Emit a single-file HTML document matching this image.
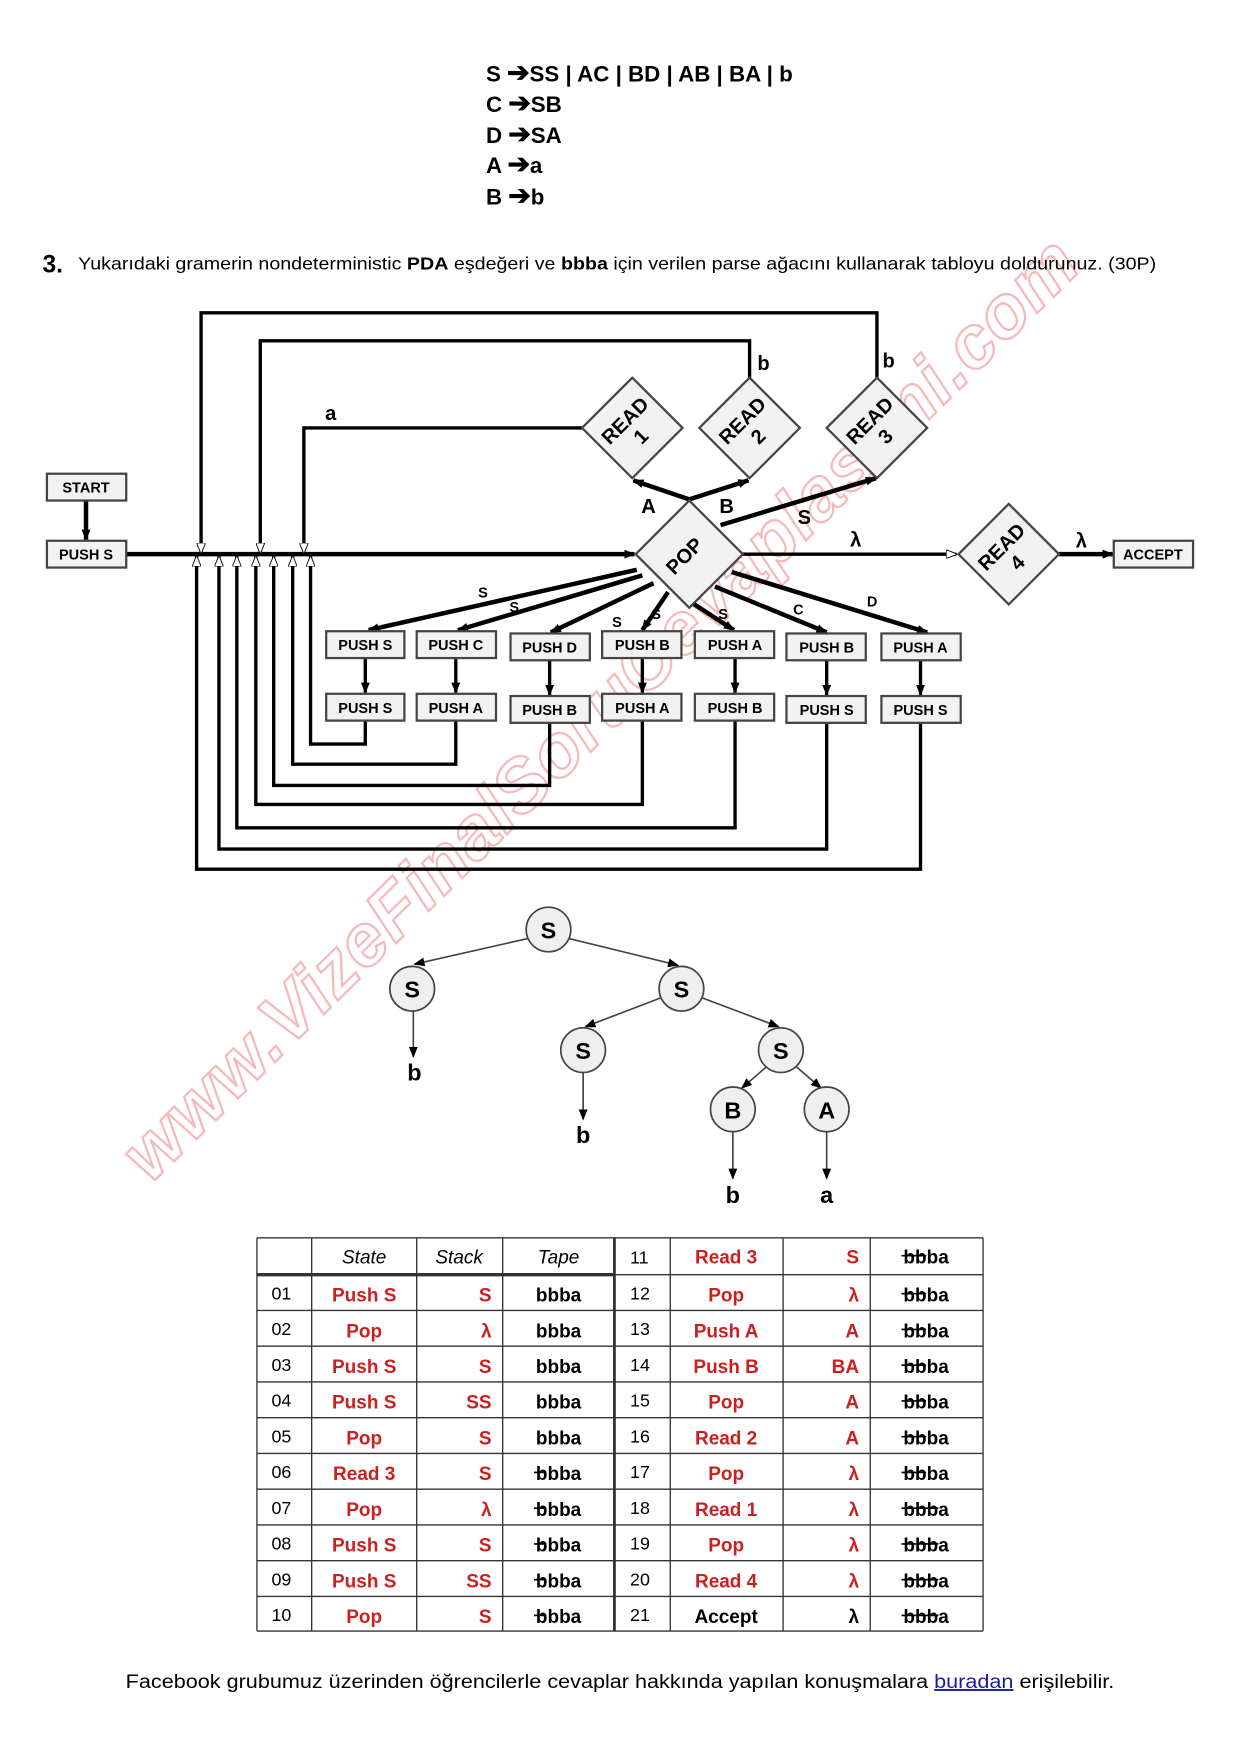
<!DOCTYPE html>
<html><head><meta charset="utf-8"><style>
html,body{margin:0;padding:0;background:#fff}
svg{display:block}
text{font-family:"Liberation Sans",sans-serif}
</style></head><body>
<svg width="1240" height="1754" viewBox="0 0 1110 1570" xmlns="http://www.w3.org/2000/svg">
<defs>
<marker id="ah" markerWidth="10" markerHeight="8" refX="9" refY="4" orient="auto" markerUnits="userSpaceOnUse"><path d="M0,0 L10,4 L0,8 Z" fill="#000"/></marker>
<marker id="ao" markerWidth="10" markerHeight="8" refX="9" refY="4" orient="auto" markerUnits="userSpaceOnUse"><path d="M0,0 L10,4 L0,8 Z" fill="#fff" stroke="#000" stroke-width="0.8"/></marker>
</defs>
<rect width="1110" height="1570" fill="#fff"/>

<!-- watermark -->
<text x="0" y="0" transform="translate(135,1060) rotate(-44.5)" font-size="66" font-weight="bold" font-style="italic" fill="none" stroke="#f4a8a8" stroke-width="2" opacity="0.8" textLength="1170">www.VizeFinalSoruCevaplasimi.com</text>

<!-- grammar -->
<g font-size="20" font-weight="bold" fill="#000">
<text x="435" y="73">S <tspan font-size="24">➔</tspan>SS | AC | BD | AB | BA | b</text>
<text x="435" y="100">C <tspan font-size="24">➔</tspan>SB</text>
<text x="435" y="128">D <tspan font-size="24">➔</tspan>SA</text>
<text x="435" y="155">A <tspan font-size="24">➔</tspan>a</text>
<text x="435" y="183">B <tspan font-size="24">➔</tspan>b</text>
</g>
<text x="38" y="244" font-size="22" font-weight="bold">3.</text>
<text x="70" y="241" font-size="15.5" textLength="965" lengthAdjust="spacingAndGlyphs">Yukarıdaki gramerin nondeterministic <tspan font-weight="bold">PDA</tspan> eşdeğeri ve <tspan font-weight="bold">bbba</tspan> için verilen parse ağacını kullanarak tabloyu doldurunuz.  (30P)</text>

<!-- diagram -->
<g stroke="#000" fill="none">
<line x1="113" y1="496" x2="568" y2="496" stroke-width="4" marker-end="url(#ah)"/>
<line x1="77" y1="448" x2="77" y2="483" stroke-width="4" marker-end="url(#ah)"/>
<line x1="665" y1="496" x2="856" y2="496" stroke-width="3" marker-end="url(#ao)"/>
<line x1="948" y1="496" x2="996" y2="496" stroke-width="4" marker-end="url(#ah)"/>
<line x1="617" y1="447" x2="567" y2="430" stroke-width="4" marker-end="url(#ah)"/>
<line x1="617" y1="447" x2="670" y2="430" stroke-width="4" marker-end="url(#ah)"/>
<line x1="645" y1="470" x2="784" y2="428" stroke-width="4" marker-end="url(#ah)"/>
<polyline points="521,383 272,383 272,495" stroke-width="3" marker-end="url(#ao)"/>
<polyline points="671,338 671,305 233,305 233,495" stroke-width="3" marker-end="url(#ao)"/>
<polyline points="785,338 785,280 180,280 180,495" stroke-width="3" marker-end="url(#ao)"/>
<line x1="570" y1="510" x2="330" y2="564" stroke-width="4" marker-end="url(#ah)"/>
<line x1="575" y1="515" x2="410" y2="564" stroke-width="4" marker-end="url(#ah)"/>
<line x1="585" y1="522" x2="493" y2="566" stroke-width="4" marker-end="url(#ah)"/>
<line x1="598" y1="530" x2="575" y2="564" stroke-width="4" marker-end="url(#ah)"/>
<line x1="620" y1="540" x2="657" y2="564" stroke-width="4" marker-end="url(#ah)"/>
<line x1="640" y1="525" x2="740" y2="566" stroke-width="4" marker-end="url(#ah)"/>
<line x1="655" y1="512" x2="830" y2="566" stroke-width="4" marker-end="url(#ah)"/>
<line x1="327" y1="589" x2="327" y2="620" stroke-width="3" marker-end="url(#ah)"/>
<line x1="408" y1="589" x2="408" y2="620" stroke-width="3" marker-end="url(#ah)"/>
<line x1="492" y1="591" x2="492" y2="622" stroke-width="3" marker-end="url(#ah)"/>
<line x1="575" y1="589" x2="575" y2="620" stroke-width="3" marker-end="url(#ah)"/>
<line x1="658" y1="589" x2="658" y2="620" stroke-width="3" marker-end="url(#ah)"/>
<line x1="740" y1="591" x2="740" y2="622" stroke-width="3" marker-end="url(#ah)"/>
<line x1="824" y1="591" x2="824" y2="622" stroke-width="3" marker-end="url(#ah)"/>
<polyline points="327,645 327,666 278,666 278,498" stroke-width="3" marker-end="url(#ao)"/>
<polyline points="408,645 408,684 262,684 262,498" stroke-width="3" marker-end="url(#ao)"/>
<polyline points="492,647 492,703 245,703 245,498" stroke-width="3" marker-end="url(#ao)"/>
<polyline points="575,645 575,720 229,720 229,498" stroke-width="3" marker-end="url(#ao)"/>
<polyline points="658,645 658,741 212,741 212,498" stroke-width="3" marker-end="url(#ao)"/>
<polyline points="740,647 740,760 196,760 196,498" stroke-width="3" marker-end="url(#ao)"/>
<polyline points="824,647 824,778 176,778 176,498" stroke-width="3" marker-end="url(#ao)"/>
</g>

<g font-size="13" font-weight="bold" text-anchor="middle">
<g fill="#f2f2f2" stroke="#444" stroke-width="2">
<rect x="42" y="424" width="71" height="24"/><rect x="42" y="484" width="71" height="24"/>
<rect x="997" y="484" width="71" height="24"/>
<rect x="292" y="565" width="70" height="24"/><rect x="373" y="565" width="71" height="24"/>
<rect x="457" y="567" width="71" height="24"/><rect x="539" y="565" width="71" height="24"/>
<rect x="622" y="565" width="71" height="24"/><rect x="704" y="567" width="71" height="24"/>
<rect x="789" y="567" width="71" height="24"/>
<rect x="292" y="621" width="70" height="24"/><rect x="373" y="621" width="71" height="24"/>
<rect x="457" y="623" width="71" height="24"/><rect x="539" y="621" width="71" height="24"/>
<rect x="622" y="621" width="71" height="24"/><rect x="704" y="623" width="71" height="24"/>
<rect x="789" y="623" width="71" height="24"/>
</g>
<text x="77" y="441">START</text><text x="77" y="501">PUSH  S</text><text x="1032" y="501">ACCEPT</text>
<text x="327" y="582">PUSH  S</text><text x="408" y="582">PUSH  C</text><text x="492" y="584">PUSH  D</text>
<text x="575" y="582">PUSH  B</text><text x="658" y="582">PUSH  A</text><text x="740" y="584">PUSH  B</text><text x="824" y="584">PUSH  A</text>
<text x="327" y="638">PUSH  S</text><text x="408" y="638">PUSH  A</text><text x="492" y="640">PUSH  B</text>
<text x="575" y="638">PUSH  A</text><text x="658" y="638">PUSH  B</text><text x="740" y="640">PUSH  S</text><text x="824" y="640">PUSH  S</text>
</g>

<g fill="#f2f2f2" stroke="#444" stroke-width="2">
<polygon points="617,448 665,496 617,544 569,496"/>
<polygon points="566,338 611,383 566,428 521,383"/>
<polygon points="671,338 716,383 671,428 626,383"/>
<polygon points="785,338 830,383 785,428 740,383"/>
<polygon points="903,451 948,496 903,541 858,496"/>
</g>
<g font-size="18" font-weight="bold" text-anchor="middle">
<text transform="translate(617,502) rotate(-45)">POP</text>
<text transform="translate(566,383) rotate(-45)"><tspan x="0" y="-3">READ</tspan><tspan x="0" y="17">1</tspan></text>
<text transform="translate(671,383) rotate(-45)"><tspan x="0" y="-3">READ</tspan><tspan x="0" y="17">2</tspan></text>
<text transform="translate(785,383) rotate(-45)"><tspan x="0" y="-3">READ</tspan><tspan x="0" y="17">3</tspan></text>
<text transform="translate(903,496) rotate(-45)"><tspan x="0" y="-3">READ</tspan><tspan x="0" y="17">4</tspan></text>
</g>
<g font-weight="bold" font-size="18">
<text x="291" y="376">a</text><text x="678" y="331">b</text><text x="790" y="329">b</text>
<text x="574" y="459">A</text><text x="644" y="459">B</text><text x="714" y="469">S</text>
<text x="761" y="489">λ</text><text x="963" y="490">λ</text>
</g>
<g font-weight="bold" font-size="13">
<text x="428" y="535">S</text><text x="456" y="548">S</text><text x="548" y="561">S</text><text x="583" y="554">S</text>
<text x="643" y="554">S</text><text x="710" y="550">C</text><text x="776" y="543">D</text>
</g>

<g stroke="#444" stroke-width="1.5" fill="none">
<line x1="473" y1="840" x2="371" y2="863" marker-end="url(#ah)"/>
<line x1="509" y1="840" x2="607" y2="864" marker-end="url(#ah)"/>
<line x1="592" y1="893" x2="524" y2="919" marker-end="url(#ah)"/>
<line x1="628" y1="893" x2="697" y2="919" marker-end="url(#ah)"/>
<line x1="686" y1="955" x2="664" y2="974" marker-end="url(#ah)"/>
<line x1="713" y1="955" x2="735" y2="974" marker-end="url(#ah)"/>
<line x1="370" y1="905" x2="370" y2="946" marker-end="url(#ah)"/>
<line x1="522" y1="960" x2="522" y2="1002" marker-end="url(#ah)"/>
<line x1="656" y1="1013" x2="656" y2="1055" marker-end="url(#ah)"/>
<line x1="740" y1="1013" x2="740" y2="1055" marker-end="url(#ah)"/>
</g>
<g fill="#efefef" stroke="#444" stroke-width="1.5">
<circle cx="491" cy="832" r="20"/><circle cx="369" cy="885" r="20"/><circle cx="610" cy="885" r="20"/>
<circle cx="522" cy="940" r="20"/><circle cx="699" cy="940" r="20"/><circle cx="656" cy="993" r="20"/><circle cx="740" cy="993" r="20"/>
</g>
<g font-size="21" font-weight="bold" text-anchor="middle">
<text x="491" y="840">S</text><text x="369" y="893">S</text><text x="610" y="893">S</text><text x="522" y="948">S</text>
<text x="699" y="948">S</text><text x="656" y="1001">B</text><text x="740" y="1001">A</text>
<text x="371" y="967">b</text><text x="522" y="1023">b</text><text x="656" y="1077">b</text><text x="740" y="1077">a</text>
</g>

<g stroke="#333" stroke-width="1.2">
<line x1="230" y1="1108" x2="880" y2="1108"/>
<line x1="230" y1="1141" x2="550" y2="1141" stroke-width="3"/><line x1="550" y1="1141" x2="880" y2="1141"/>
<line x1="230" y1="1173" x2="880" y2="1173"/><line x1="230" y1="1205" x2="880" y2="1205"/>
<line x1="230" y1="1237" x2="880" y2="1237"/><line x1="230" y1="1269" x2="880" y2="1269"/>
<line x1="230" y1="1301" x2="880" y2="1301"/><line x1="230" y1="1333" x2="880" y2="1333"/>
<line x1="230" y1="1365" x2="880" y2="1365"/><line x1="230" y1="1397" x2="880" y2="1397"/>
<line x1="230" y1="1429" x2="880" y2="1429"/><line x1="230" y1="1460" x2="880" y2="1460"/>
<line x1="230" y1="1108" x2="230" y2="1460"/><line x1="279" y1="1108" x2="279" y2="1460"/>
<line x1="373" y1="1108" x2="373" y2="1460"/><line x1="450" y1="1108" x2="450" y2="1460"/>
<line x1="550" y1="1108" x2="550" y2="1460" stroke-width="2.5"/><line x1="600" y1="1108" x2="600" y2="1460"/>
<line x1="701" y1="1108" x2="701" y2="1460"/><line x1="779" y1="1108" x2="779" y2="1460"/>
<line x1="880" y1="1108" x2="880" y2="1460"/>
</g>
<g font-size="17" font-style="italic" text-anchor="middle">
<text x="326" y="1131">State</text><text x="411" y="1131">Stack</text><text x="500" y="1131">Tape</text>
</g>
<g font-size="16">
<text x="243" y="1163" font-family="Liberation Mono">01</text><text x="243" y="1195" font-family="Liberation Mono">02</text>
<text x="243" y="1227" font-family="Liberation Mono">03</text><text x="243" y="1259" font-family="Liberation Mono">04</text>
<text x="243" y="1291" font-family="Liberation Mono">05</text><text x="243" y="1323" font-family="Liberation Mono">06</text>
<text x="243" y="1355" font-family="Liberation Mono">07</text><text x="243" y="1387" font-family="Liberation Mono">08</text>
<text x="243" y="1419" font-family="Liberation Mono">09</text><text x="243" y="1451" font-family="Liberation Mono">10</text>
<text x="564" y="1131" font-family="Liberation Mono">11</text><text x="564" y="1163" font-family="Liberation Mono">12</text>
<text x="564" y="1195" font-family="Liberation Mono">13</text><text x="564" y="1227" font-family="Liberation Mono">14</text>
<text x="564" y="1259" font-family="Liberation Mono">15</text><text x="564" y="1291" font-family="Liberation Mono">16</text>
<text x="564" y="1323" font-family="Liberation Mono">17</text><text x="564" y="1355" font-family="Liberation Mono">18</text>
<text x="564" y="1387" font-family="Liberation Mono">19</text><text x="564" y="1419" font-family="Liberation Mono">20</text>
<text x="564" y="1451" font-family="Liberation Mono">21</text>
</g>
<g font-size="17" font-weight="bold" fill="#cc1f1f" text-anchor="middle">
<text x="326" y="1165">Push S</text><text x="326" y="1197">Pop</text><text x="326" y="1229">Push S</text>
<text x="326" y="1261">Push S</text><text x="326" y="1293">Pop</text><text x="326" y="1325">Read 3</text>
<text x="326" y="1357">Pop</text><text x="326" y="1389">Push S</text><text x="326" y="1421">Push S</text><text x="326" y="1453">Pop</text>
<text x="650" y="1131">Read 3</text><text x="650" y="1165">Pop</text><text x="650" y="1197">Push A</text>
<text x="650" y="1229">Push B</text><text x="650" y="1261">Pop</text><text x="650" y="1293">Read 2</text>
<text x="650" y="1325">Pop</text><text x="650" y="1357">Read 1</text><text x="650" y="1389">Pop</text>
<text x="650" y="1421">Read 4</text><text x="650" y="1453" fill="#000">Accept</text>
</g>
<g font-size="17" font-weight="bold" fill="#cc1f1f" text-anchor="end">
<text x="440" y="1165">S</text><text x="440" y="1197">λ</text><text x="440" y="1229">S</text><text x="440" y="1261">SS</text>
<text x="440" y="1293">S</text><text x="440" y="1325">S</text><text x="440" y="1357">λ</text><text x="440" y="1389">S</text>
<text x="440" y="1421">SS</text><text x="440" y="1453">S</text>
<text x="769" y="1131">S</text><text x="769" y="1165">λ</text><text x="769" y="1197">A</text><text x="769" y="1229">BA</text>
<text x="769" y="1261">A</text><text x="769" y="1293">A</text><text x="769" y="1325">λ</text><text x="769" y="1357">λ</text>
<text x="769" y="1389">λ</text><text x="769" y="1421">λ</text><text x="769" y="1453" fill="#000">λ</text>
</g>
<g font-size="17" font-weight="bold" text-anchor="middle">
<text x="500" y="1165">bbba</text><text x="500" y="1197">bbba</text><text x="500" y="1229">bbba</text>
<text x="500" y="1261">bbba</text><text x="500" y="1293">bbba</text><text x="500" y="1325">bbba</text>
<text x="500" y="1357">bbba</text><text x="500" y="1389">bbba</text><text x="500" y="1421">bbba</text><text x="500" y="1453">bbba</text>
<text x="829" y="1131">bbba</text><text x="829" y="1165">bbba</text><text x="829" y="1197">bbba</text>
<text x="829" y="1229">bbba</text><text x="829" y="1261">bbba</text><text x="829" y="1293">bbba</text>
<text x="829" y="1325">bbba</text><text x="829" y="1357">bbba</text><text x="829" y="1389">bbba</text>
<text x="829" y="1421">bbba</text><text x="829" y="1453">bbba</text>
</g>
<g stroke="#000" stroke-width="1.5">
<line x1="478" y1="1318" x2="489" y2="1318"/><line x1="478" y1="1350" x2="489" y2="1350"/>
<line x1="478" y1="1382" x2="489" y2="1382"/><line x1="478" y1="1414" x2="489" y2="1414"/><line x1="478" y1="1446" x2="489" y2="1446"/>
<line x1="807" y1="1124" x2="829" y2="1124"/><line x1="807" y1="1158" x2="829" y2="1158"/><line x1="807" y1="1190" x2="829" y2="1190"/>
<line x1="807" y1="1222" x2="829" y2="1222"/><line x1="807" y1="1254" x2="829" y2="1254"/><line x1="807" y1="1286" x2="829" y2="1286"/>
<line x1="807" y1="1318" x2="829" y2="1318"/><line x1="807" y1="1350" x2="840" y2="1350"/><line x1="807" y1="1382" x2="840" y2="1382"/>
<line x1="807" y1="1414" x2="840" y2="1414"/><line x1="807" y1="1446" x2="840" y2="1446"/>
</g>

<text x="555" y="1511" font-size="17" text-anchor="middle" textLength="885" lengthAdjust="spacingAndGlyphs">Facebook grubumuz üzerinden öğrencilerle cevaplar hakkında yapılan konuşmalara <tspan fill="#1a1aaa" text-decoration="underline">buradan</tspan> erişilebilir.</text>
</svg>
</body></html>
